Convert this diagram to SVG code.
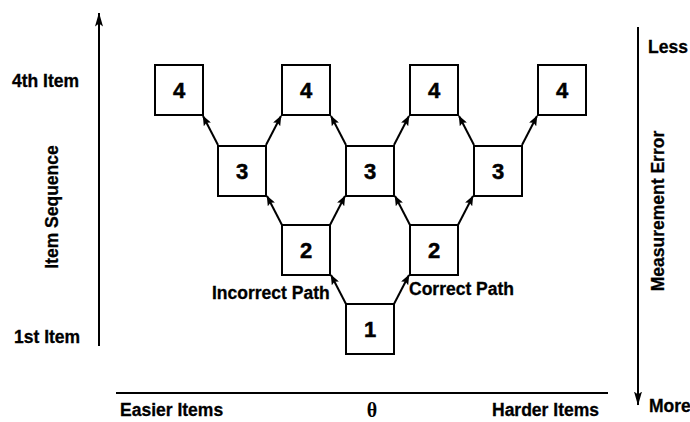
<svg xmlns="http://www.w3.org/2000/svg" width="690" height="422" viewBox="0 0 690 422">
  <defs>
    <marker id="head" viewBox="0 0 10 8" refX="9.5" refY="4" markerWidth="10" markerHeight="8" markerUnits="userSpaceOnUse" orient="auto">
      <path d="M0,0 L10,4 L0,8 L2,4 Z" fill="#000"/>
    </marker>
    <marker id="axisHead" viewBox="0 0 14 8" refX="13.5" refY="4" markerWidth="14" markerHeight="8" markerUnits="userSpaceOnUse" orient="auto">
      <path d="M0,0 L14,4 L0,8 L3,4 Z" fill="#000"/>
    </marker>
  </defs>
  <style>
    .box { fill: #fff; stroke: #000; stroke-width: 2; }
    .num { font-family: "Liberation Sans", Arial, sans-serif; font-weight: bold; font-size: 22px; text-anchor: middle; fill: #000; stroke: #000; stroke-width: 0.5; }
    .lbl { font-family: "Liberation Sans", Arial, sans-serif; font-weight: bold; font-size: 17.5px; fill: #000; stroke: #000; stroke-width: 0.3; }
    .conn { stroke: #000; stroke-width: 2; fill: none; marker-end: url(#head); }
    .axis { stroke: #000; stroke-width: 2; fill: none; }
  </style>
  <rect width="690" height="422" fill="#fff"/>

  <!-- axes -->
  <g id="axes">
    <line class="axis" x1="99" y1="346" x2="99" y2="13" marker-end="url(#axisHead)"/>
    <line class="axis" x1="638" y1="27" x2="638" y2="405" marker-end="url(#axisHead)"/>
    <line class="axis" x1="116" y1="393" x2="608" y2="393" stroke-width="2.5"/>
  </g>

  <!-- axis labels -->
  <g id="labels">
    <text class="lbl" x="12" y="87">4th Item</text>
    <text class="lbl" x="14" y="343">1st Item</text>
    <text class="lbl" text-anchor="middle" transform="translate(58,207) rotate(-90)">Item Sequence</text>
    <text class="lbl" x="648" y="53" font-size="16.5">Less</text>
    <text class="lbl" x="649" y="412" font-size="16.5">More</text>
    <text class="lbl" text-anchor="middle" transform="translate(664,211) rotate(-90)">Measurement Error</text>
    <text class="lbl" x="120" y="416">Easier Items</text>
    <text class="lbl" x="492" y="416">Harder Items</text>
    <text x="372" y="417" text-anchor="middle" font-family="'Liberation Serif', 'Times New Roman', serif" font-size="20" font-weight="bold">θ</text>
    <text class="lbl" x="212" y="299">Incorrect Path</text>
    <text class="lbl" x="409" y="295">Correct Path</text>
  </g>

  <!-- connectors -->
  <g id="connectors">
    <line class="conn" x1="346" y1="304" x2="331" y2="275"/>
    <line class="conn" x1="394" y1="304" x2="409" y2="275"/>
    <line class="conn" x1="282" y1="225" x2="267" y2="196"/>
    <line class="conn" x1="330" y1="225" x2="345" y2="196"/>
    <line class="conn" x1="410" y1="225" x2="395" y2="196"/>
    <line class="conn" x1="458" y1="225" x2="473" y2="196"/>
    <line class="conn" x1="218" y1="145" x2="203" y2="116"/>
    <line class="conn" x1="266" y1="145" x2="281" y2="116"/>
    <line class="conn" x1="346" y1="145" x2="331" y2="116"/>
    <line class="conn" x1="394" y1="145" x2="409" y2="116"/>
    <line class="conn" x1="474" y1="145" x2="459" y2="116"/>
    <line class="conn" x1="522" y1="145" x2="537" y2="116"/>
  </g>

  <!-- item nodes -->
  <g id="n1"><rect class="box" x="346" y="304" width="48" height="50"/><text class="num" x="370" y="337">1</text></g>
  <g id="n2a"><rect class="box" x="282" y="225" width="48" height="50"/><text class="num" x="306" y="258">2</text></g>
  <g id="n2b"><rect class="box" x="410" y="225" width="48" height="50"/><text class="num" x="434" y="258">2</text></g>
  <g id="n3a"><rect class="box" x="218" y="146" width="48" height="50"/><text class="num" x="242" y="179">3</text></g>
  <g id="n3b"><rect class="box" x="346" y="146" width="48" height="50"/><text class="num" x="370" y="179">3</text></g>
  <g id="n3c"><rect class="box" x="474" y="146" width="48" height="50"/><text class="num" x="498" y="179">3</text></g>
  <g id="n4a"><rect class="box" x="155" y="65" width="48" height="50"/><text class="num" x="179" y="98">4</text></g>
  <g id="n4b"><rect class="box" x="282" y="65" width="48" height="50"/><text class="num" x="306" y="98">4</text></g>
  <g id="n4c"><rect class="box" x="410" y="65" width="48" height="50"/><text class="num" x="434" y="98">4</text></g>
  <g id="n4d"><rect class="box" x="538" y="65" width="48" height="50"/><text class="num" x="562" y="98">4</text></g>
</svg>
